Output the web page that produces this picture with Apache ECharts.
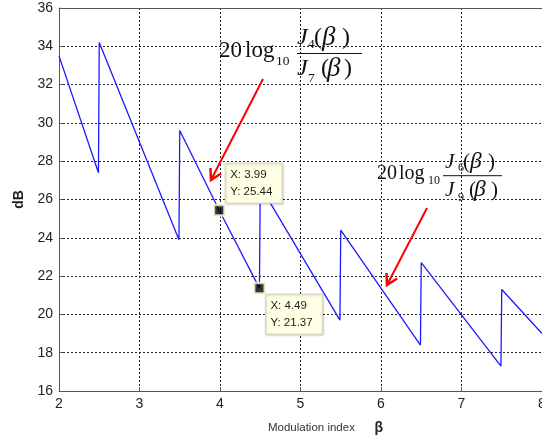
<!DOCTYPE html>
<html>
<head>
<meta charset="utf-8">
<script src="https://cdn.jsdelivr.net/npm/echarts@6/dist/echarts.min.js"></script>
<style>html,body{margin:0;padding:0;background:#fff;}#c{width:542px;height:437px;}</style>
</head>
<body>
<div id="c"></div>
<script>
// Modulation index beta (x) and level in dB (y)
const beta = [2.0, 2.49, 2.5, 3.49, 3.5, 3.99, 4.49, 4.5, 5.49, 5.5, 6.49, 6.5, 7.49, 7.5, 8.0];
const dB   = [33.5, 27.4, 34.2, 23.9, 29.6, 25.44, 21.37, 26.7, 19.7, 24.4, 18.4, 22.7, 17.3, 21.3, 19.0];
// data tips
const tipX = [3.99, 4.49];
const tipY = [25.44, 21.37];
const tipLines = [['X: 3.99', 'Y: 25.44'], ['X: 4.49', 'Y: 21.37']];
// axis ticks
const xTicks = [2, 3, 4, 5, 6, 7, 8];
const yTicks = [16, 18, 20, 22, 24, 26, 28, 30, 32, 34, 36];

const chart = echarts.init(document.getElementById('c'), null, {renderer: 'canvas'});
const serif = '"Liberation Serif","Times New Roman",serif';
const sans = '"Liberation Sans",Arial,sans-serif';

function txt(x, y, s, size, italic) {
  return {type: 'text', z: 100, style: {x: x, y: y, text: s, fill: '#111',
    font: (italic ? 'italic ' : '') + size + 'px ' + serif, verticalAlign: 'middle', align: 'left'}};
}
// o: positions of every glyph group of the formula 20 log10 Jn(β)/Jm(β)
function formula(o) {
  return [
    txt(o.x20, o.cy, '20', o.fs, false),
    txt(o.xlog, o.cy, 'log', o.fs, false),
    txt(o.x10, o.cy10, '10', o.ss, false),
    {type: 'line', z: 100, shape: {x1: o.bx1, y1: o.by, x2: o.bx2, y2: o.by}, style: {stroke: '#111', lineWidth: 1}},
    txt(o.jx, o.ny, 'J', o.ff, true),
    txt(o.nsx, o.ny + o.nsub, o.n1, o.ss, false),
    txt(o.np[0], o.ny, '(', o.ff, false),
    txt(o.np[1], o.ny, 'β', o.bf, true),
    txt(o.np[2], o.ny, ')', o.ff, false),
    txt(o.jx, o.dy, 'J', o.ff, true),
    txt(o.dsx, o.dy + o.dsub, o.n2, o.ss, false),
    txt(o.dp[0], o.dy, '(', o.ff, false),
    txt(o.dp[1], o.dy, 'β', o.bf, true),
    txt(o.dp[2], o.dy, ')', o.ff, false)
  ];
}
function arrow(x1, y1, x2, y2) {
  const dx = x2 - x1, dy = y2 - y1, L = Math.hypot(dx, dy);
  const ux = dx / L, uy = dy / L, hl = 12, a = Math.PI / 6;
  const bx = -ux, by = -uy;
  const h1 = [x2 + hl * (bx * Math.cos(a) - by * Math.sin(a)), y2 + hl * (bx * Math.sin(a) + by * Math.cos(a))];
  const h2 = [x2 + hl * (bx * Math.cos(-a) - by * Math.sin(-a)), y2 + hl * (bx * Math.sin(-a) + by * Math.cos(-a))];
  return [
    {type: 'line', z: 100, shape: {x1: x1, y1: y1, x2: x2, y2: y2}, style: {stroke: '#ff0000', lineWidth: 2}},
    {type: 'polyline', z: 100, shape: {points: [h1, [x2, y2], h2]}, style: {stroke: '#ff0000', lineWidth: 2.5, fill: null}}
  ];
}

const option = {
  animation: false,
  backgroundColor: '#fff',
  grid: {left: 59, right: 0, top: 8, bottom: 46, containLabel: false, outerBoundsMode: 'none'},
  xAxis: [{
    type: 'value', min: 2, max: 8, interval: 1,
    name: '{a|Modulation index   }{b|β}', nameLocation: 'middle', nameGap: 30,
    nameTextStyle: {padding: [0, 0, 0, 50], rich: {
      a: {fontSize: 11.5, fontFamily: sans, color: '#333'},
      b: {fontSize: 14, fontFamily: sans, fontWeight: 'bold', color: '#222', padding: [0, 0, 0, 10]}}},
    axisLine: {show: true, onZero: false, lineStyle: {color: '#555', width: 1}},
    axisTick: {show: true, inside: true, length: 4, lineStyle: {color: '#555'}},
    axisLabel: {fontSize: 14, fontFamily: sans, color: '#222', margin: 6,
      formatter: v => xTicks.indexOf(v) >= 0 ? String(v) : ''},
    splitLine: {show: true, lineStyle: {color: '#222', type: [2, 2], width: 1}}
  }, {
    type: 'value', min: 2, max: 8, interval: 1, position: 'top',
    axisLine: {show: true, onZero: false, lineStyle: {color: '#555', width: 1}},
    axisTick: {show: false}, axisLabel: {show: false}, splitLine: {show: false}
  }],
  yAxis: {
    type: 'value', min: 16, max: 36, interval: 2,
    name: 'dB', nameLocation: 'middle', nameGap: 29,
    nameTextStyle: {fontSize: 14, fontFamily: sans, fontWeight: 'bold', color: '#222'},
    axisLine: {show: true, onZero: false, lineStyle: {color: '#555', width: 1}},
    axisTick: {show: true, inside: true, length: 4, lineStyle: {color: '#555'}},
    axisLabel: {fontSize: 14, fontFamily: sans, color: '#222', margin: 6,
      formatter: v => yTicks.indexOf(v) >= 0 ? String(v) : ''},
    splitLine: {show: true, lineStyle: {color: '#222', type: [2, 2], width: 1}}
  },
  series: [{
    type: 'line', xAxisIndex: 0,
    data: beta.map((b, i) => [b, dB[i]]),
    showSymbol: false, symbol: 'none',
    lineStyle: {color: '#1a1aff', width: 1.3},
    z: 2
  }, {
    type: 'scatter', xAxisIndex: 0,
    data: tipX.map((x, i) => [x, tipY[i]]),
    symbol: 'rect', symbolSize: 10.5,
    itemStyle: {color: '#000', borderColor: '#fffbd6', borderWidth: 2.5},
    z: 10
  }]
};
chart.setOption(option);

// data-tip boxes anchored on the tip points through the axes
const tipGraphics = [];
tipX.forEach((x, i) => {
  const p = chart.convertToPixel({xAxisIndex: 0, yAxisIndex: 0}, [x, tipY[i]]);
  const bx = p[0] + 6, by = i === 0 ? p[1] - 47 : p[1] + 6;
  tipGraphics.push({type: 'rect', z: 120, shape: {x: bx, y: by, width: 57, height: 40},
    style: {fill: '#ffffe3', stroke: '#d4d4c0', lineWidth: 1,
      shadowColor: 'rgba(0,0,0,0.18)', shadowBlur: 2, shadowOffsetX: 1, shadowOffsetY: 1}});
  tipLines[i].forEach((s, k) => tipGraphics.push({type: 'text', z: 121,
    style: {x: bx + 5, y: by + 12 + k * 16.5, text: s, fill: '#222', font: '11.5px ' + sans,
      verticalAlign: 'middle', align: 'left'}}));
});

const graphics = [].concat(
  formula({x20: 219, xlog: 245, cy: 51, fs: 23, x10: 276, cy10: 61, ss: 13.5,
           bx1: 297, bx2: 362, by: 53.5, ff: 24, bf: 27, jx: 297, ny: 38, dy: 69, nsub: 6, dsub: 9,
           n1: '4', n2: '7', nsx: 308, dsx: 308, np: [314, 322, 342], dp: [321, 327, 344]}),
  formula({x20: 377, xlog: 399, cy: 174, fs: 20, x10: 428, cy10: 181, ss: 12,
           bx1: 443, bx2: 502, by: 175.7, ff: 21, bf: 23.5, jx: 445, ny: 162, dy: 190, nsub: 6, dsub: 8,
           n1: '6', n2: '9', nsx: 458, dsx: 458, np: [463, 470, 488], dp: [469, 474, 491]}),
  arrow(263, 79, 211, 180),
  arrow(427, 208, 387, 285),
  tipGraphics
);
chart.setOption({graphic: graphics});
</script>
</body>
</html>
